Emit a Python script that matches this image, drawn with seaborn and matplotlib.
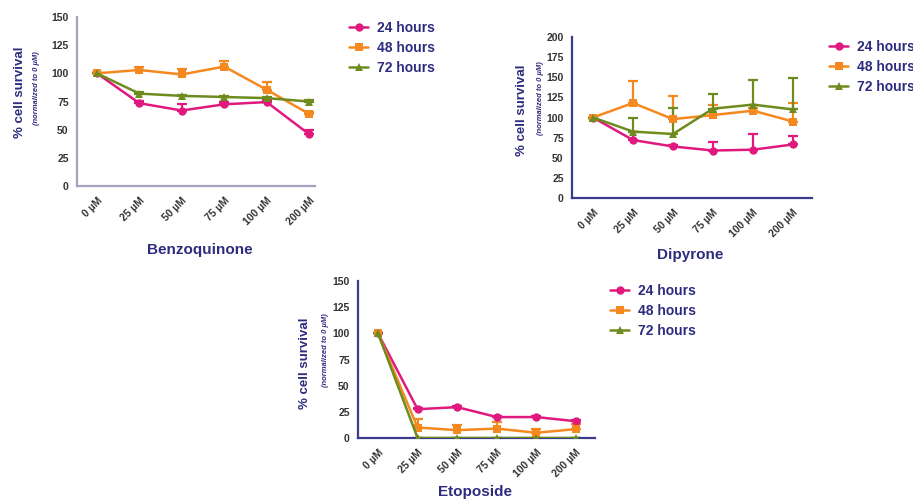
import numpy as np
import pandas as pd
import matplotlib
matplotlib.use("Agg")
import matplotlib.pyplot as plt
import seaborn as sns

# Concentrations and exposure times
doses = ["0 µM", "25 µM", "50 µM", "75 µM", "100 µM", "200 µM"]
times = ["24 hours", "48 hours", "72 hours"]

# Benzoquinone: mean % survival and upper error (SEM)
bq_24 = [100, 73.5, 67, 72.5, 74.5, 46]
bq_48 = [100, 103, 99, 106, 85.5, 64]
bq_72 = [100, 82, 80, 79, 78, 75]
bq_24_err = [0, 2, 6, 2, 2, 4]
bq_48_err = [0, 2.5, 5, 5, 6.5, 1.5]
bq_72_err = [0, 1, 1, 1, 1, 1]

# Dipyrone
dp_24 = [100, 72, 64, 59, 60, 66.5]
dp_48 = [100, 118, 98, 103, 108.5, 95]
dp_72 = [100, 82.5, 79.5, 111, 116, 110]
dp_24_err = [0, 10, 2, 11, 19.5, 10.5]
dp_48_err = [0, 27, 29, 12.5, 3, 23]
dp_72_err = [0, 17.5, 32.5, 18.5, 31, 38.5]

# Etoposide
et_24 = [100, 27.5, 29.5, 20, 20, 16]
et_48 = [100, 10, 7.5, 9, 5, 8.5]
et_72 = [100, 0, 0, 0, 0, 0]
et_24_err = [0, 1, 1, 1, 1, 1]
et_48_err = [0, 8, 5, 6, 4, 4.5]
et_72_err = [0, 0, 0, 0, 0, 0]

palette = {"24 hours": "#E0197F", "48 hours": "#F5891F", "72 hours": "#6E8B1E"}
markers = {"24 hours": "o", "48 hours": "s", "72 hours": "^"}
NAVY = "#2E2C7E"
TICK = "#333333"


def long_frame(means, errs):
    rows = []
    for t, m, e in zip(times, means, errs):
        for i, d in enumerate(doses):
            rows.append({"dose": d, "pos": i, "time": t, "survival": m[i], "err": e[i]})
    return pd.DataFrame(rows)


sns.set_theme(style="white")
plt.rcParams["font.family"] = ["Liberation Sans", "DejaVu Sans"]

W, H = 913, 500
fig = plt.figure(figsize=(W / 100, H / 100), dpi=100)


def px_axes(left, top, right, bottom):
    return fig.add_axes([left / W, 1 - bottom / H, (right - left) / W, (bottom - top) / H])


panels = [
    dict(name="Benzoquinone", df=long_frame([bq_24, bq_48, bq_72], [bq_24_err, bq_48_err, bq_72_err]),
         box=(77, 17, 315, 186), xlim=(-0.47, 5.14), ymax=150, spine="#a3a3bf",
         ylab=(20, 92), sub=(36, 88), xlab=(200, 250), leg=(349, 21)),
    dict(name="Dipyrone", df=long_frame([dp_24, dp_48, dp_72], [dp_24_err, dp_48_err, dp_72_err]),
         box=(572, 37, 812, 198), xlim=(-0.525, 5.475), ymax=200, spine="#3b3b8f",
         ylab=(522, 110), sub=(540, 98), xlab=(690, 255), leg=(829, 40)),
    dict(name="Etoposide", df=long_frame([et_24, et_48, et_72], [et_24_err, et_48_err, et_72_err]),
         box=(358, 281, 595, 438), xlim=(-0.505, 5.48), ymax=150, spine="#3b3b8f",
         ylab=(305, 363), sub=(325, 350), xlab=(475, 492), leg=(610, 284)),
]

for p in panels:
    ax = px_axes(*p["box"])
    df = p["df"]
    # upward-only error bars with caps
    for t in times:
        sub = df[df["time"] == t]
        ax.errorbar(sub["pos"], sub["survival"], yerr=[np.zeros(len(sub)), sub["err"]],
                    fmt="none", ecolor=palette[t], elinewidth=1.6, capsize=3.5, capthick=1.6, zorder=2)
    sns.lineplot(data=df, x="pos", y="survival", hue="time", style="time",
                 palette=palette, markers=markers, dashes=False, markersize=6,
                 markeredgewidth=0, linewidth=1.8, ax=ax, zorder=3)
    ax.set_xlim(*p["xlim"])
    ax.set_ylim(0, p["ymax"])
    ax.set_xticks(range(len(doses)))
    ax.set_xticklabels(doses, rotation=45, ha="right", rotation_mode="anchor",
                       fontsize=7.5, fontweight="bold", color=TICK)
    ax.set_yticks(np.arange(0, p["ymax"] + 1, 25))
    ax.set_yticklabels([str(v) for v in range(0, p["ymax"] + 1, 25)],
                       fontsize=7.5, fontweight="bold", color=TICK)
    ax.tick_params(axis="both", direction="out", length=4, width=1.2, color=p["spine"], pad=2)
    ax.tick_params(axis="x", pad=3)
    ax.set_xlabel("")
    ax.set_ylabel("")
    for s in ["top", "right"]:
        ax.spines[s].set_visible(False)
    for s in ["left", "bottom"]:
        ax.spines[s].set_color(p["spine"])
        ax.spines[s].set_linewidth(1.6)
    ax.set_facecolor("none")

    fig.text(p["ylab"][0] / W, 1 - p["ylab"][1] / H, "% cell survival", rotation=90,
             ha="center", va="center", fontsize=9.5, fontweight="bold", color=NAVY)
    fig.text(p["sub"][0] / W, 1 - p["sub"][1] / H, "(normalized to 0 µM)", rotation=90,
             ha="center", va="center", fontsize=5.5, fontweight="bold", style="italic", color=NAVY)
    fig.text(p["xlab"][0] / W, 1 - p["xlab"][1] / H, p["name"], ha="center", va="center",
             fontsize=11, fontweight="bold", color=NAVY)

    handles, labels = ax.get_legend_handles_labels()
    ax.legend(handles, labels, loc="upper left",
              bbox_to_anchor=(p["leg"][0] / W, 1 - p["leg"][1] / H), bbox_transform=fig.transFigure,
              frameon=False, handlelength=1.4, handletextpad=0.6, labelspacing=0.42,
              prop={"weight": "bold", "size": 10}, labelcolor=NAVY, borderpad=0, borderaxespad=0)

fig.savefig("out.png", dpi=100, facecolor="white")
